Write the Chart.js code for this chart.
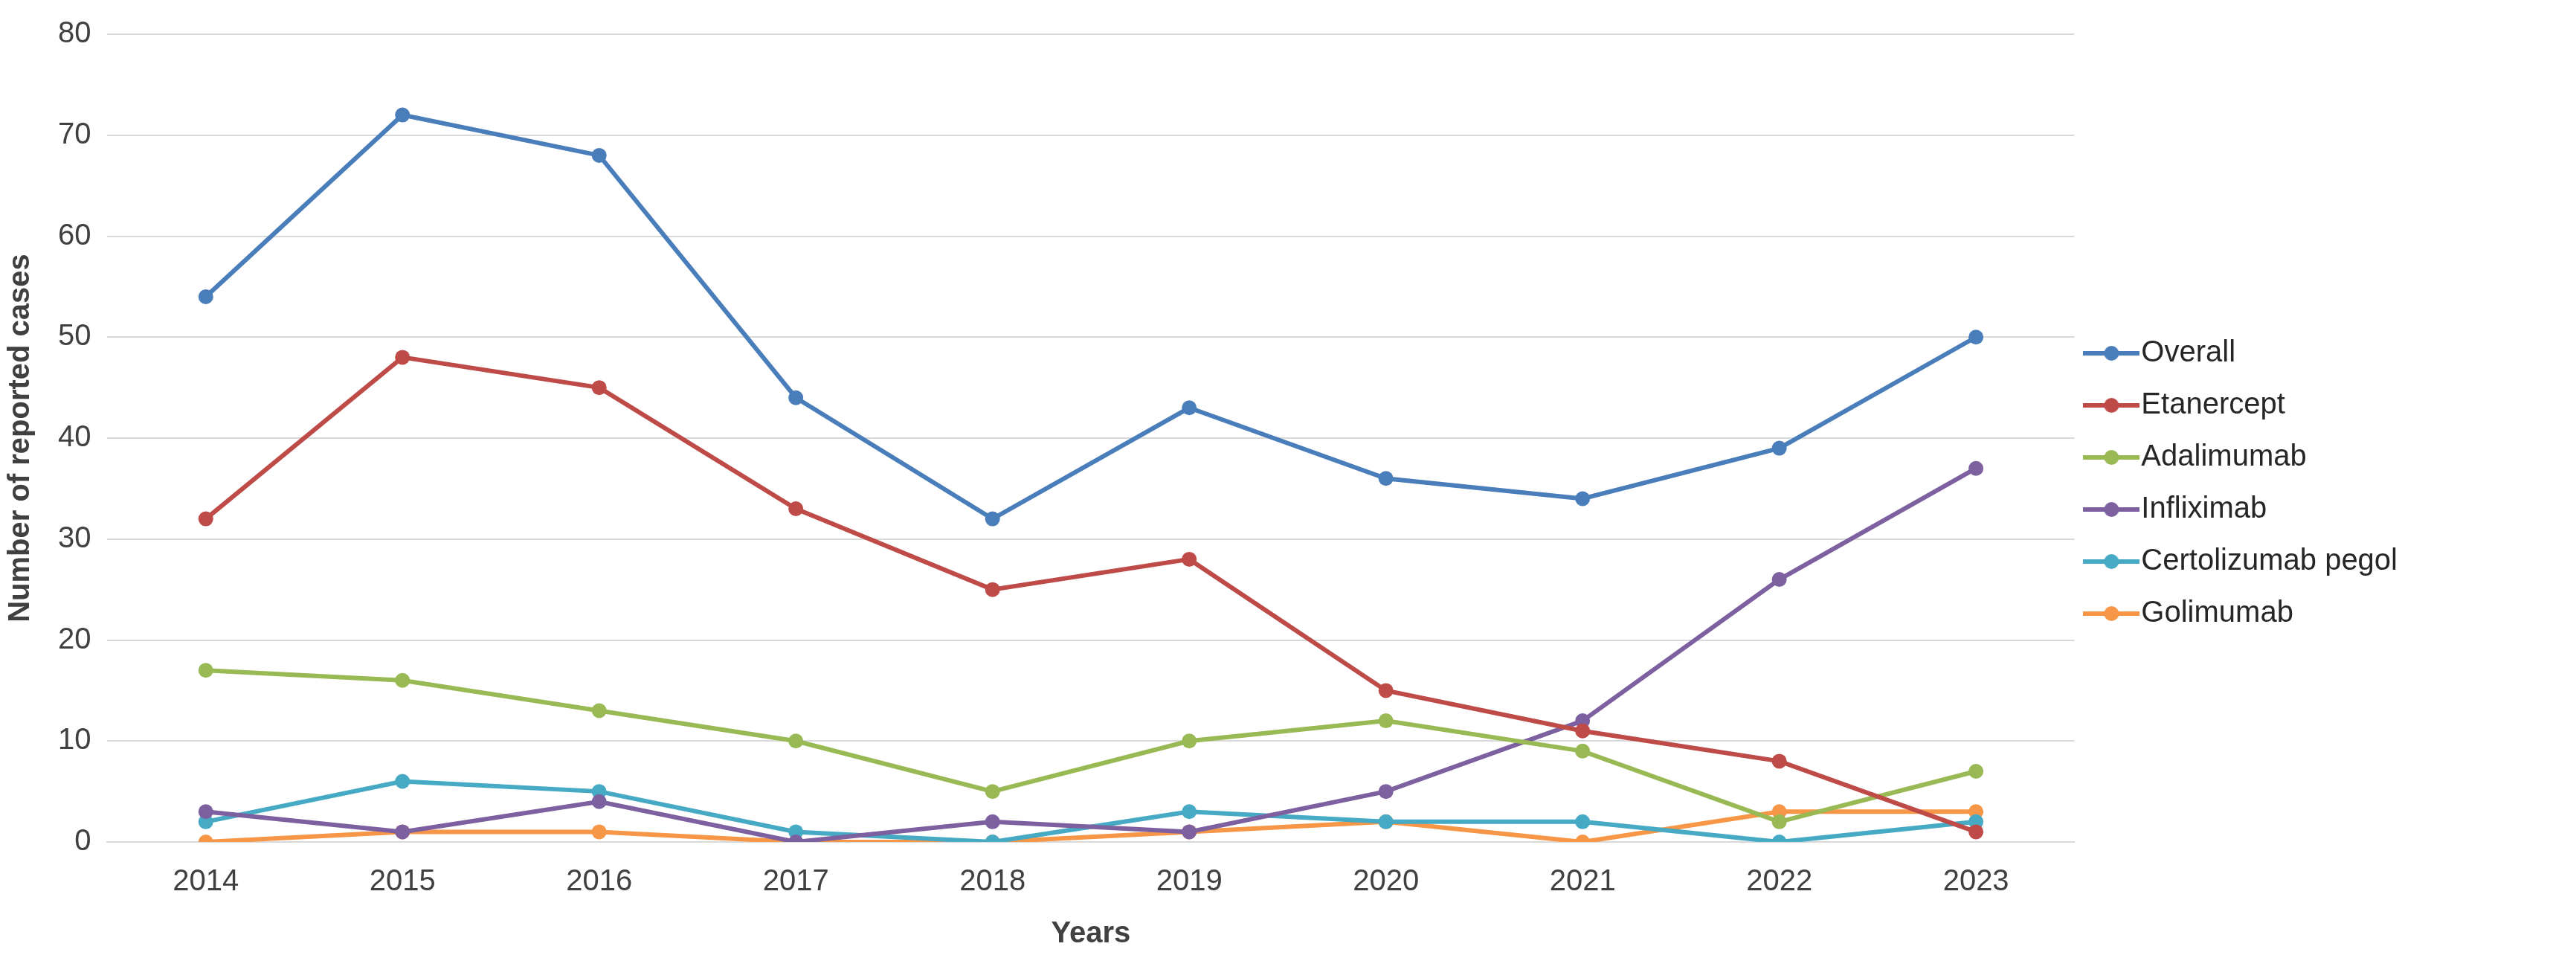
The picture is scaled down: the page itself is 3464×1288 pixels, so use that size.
<!DOCTYPE html>
<html><head><meta charset="utf-8">
<script src="https://cdn.jsdelivr.net/npm/chart.js@4"></script>
<style>html,body{margin:0;background:#fff}#w{width:3464px;height:1288px}</style>
</head><body><div id="w"><canvas id="c"></canvas></div>
<script>
const years=['2014','2015','2016','2017','2018','2019','2020','2021','2022','2023'];
const overall=[54,72,68,44,32,43,36,34,39,50];
const etanercept=[32,48,45,33,25,28,15,11,8,1];
const adalimumab=[17,16,13,10,5,10,12,9,2,7];
const infliximab=[3,1,4,0,2,1,5,12,26,37];
const certolizumab=[2,6,5,1,0,3,2,2,0,2];
const golimumab=[0,1,1,0,0,1,2,0,3,3];
const names=['Overall','Etanercept','Adalimumab','Infliximab','Certolizumab pegol','Golimumab'];
const colors=['#4a7ebb','#be4b48','#98b954','#7d60a0','#46aac5','#f79646'];
const series=[overall,etanercept,adalimumab,infliximab,certolizumab,golimumab];
function marker(col){const c=document.createElement('canvas');c.width=76;c.height=24;const x=c.getContext('2d');
x.strokeStyle=col;x.lineWidth=6;x.beginPath();x.moveTo(0,12);x.lineTo(76,12);x.stroke();
x.fillStyle=col;x.beginPath();x.arc(38,12,10,0,Math.PI*2);x.fill();return c;}
Chart.defaults.font.family='"Liberation Sans", Arial, sans-serif';
Chart.defaults.color='#404040';
new Chart(document.getElementById('c'),{type:'line',
data:{labels:years,datasets:series.map((d,i)=>({label:names[i],data:d,borderColor:colors[i],backgroundColor:colors[i],
borderWidth:6,pointRadius:10,pointHoverRadius:10,pointStyle:'circle',pointBackgroundColor:colors[i],pointBorderWidth:0,tension:0}))},
options:{responsive:true,maintainAspectRatio:false,animation:false,
layout:{padding:{top:16,right:230,left:0,bottom:4}},
plugins:{tooltip:{enabled:false},legend:{position:'right',align:'center',
labels:{usePointStyle:true,font:{size:40},color:'#262626',padding:30,
generateLabels:ch=>ch.data.datasets.map((ds,i)=>({text:ds.label,fillStyle:colors[i],strokeStyle:colors[i],pointStyle:marker(colors[i]),datasetIndex:i,fontColor:'#262626'}))}}},
scales:{x:{offset:true,grid:{display:false},border:{color:'#d9d9d9',width:2},ticks:{font:{size:40},color:'#404040',padding:22},
title:{display:true,text:'Years',font:{size:40,weight:'bold'},color:'#404040',padding:{top:0}}},
y:{min:0,max:80,ticks:{stepSize:10,font:{size:40},color:'#404040',padding:22},grid:{color:'#d9d9d9',lineWidth:2,drawTicks:false},border:{display:false},
title:{display:true,text:'Number of reported cases',font:{size:40,weight:'bold'},color:'#404040',padding:{bottom:4}}}}}
});
</script></body></html>
